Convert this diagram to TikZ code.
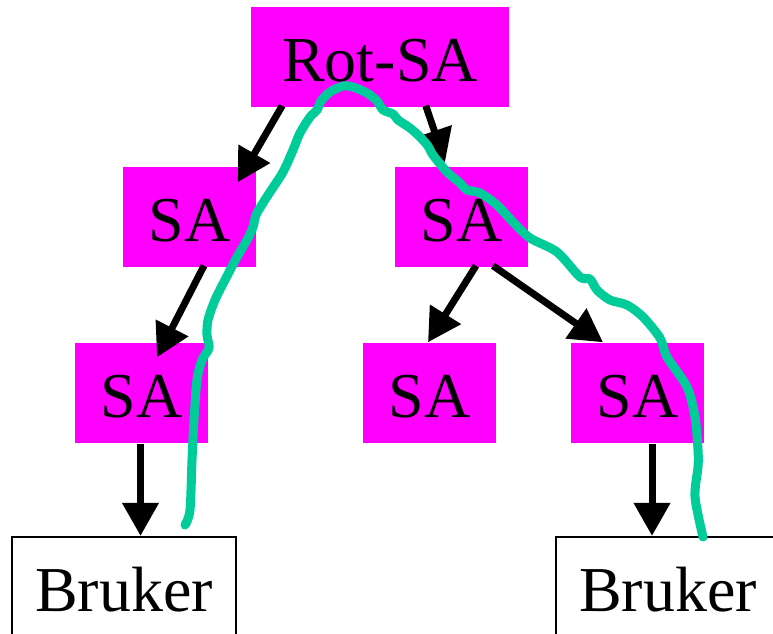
\documentclass[tikz,border=0pt]{standalone}
\usepackage{fontspec}
\setmainfont{Liberation Serif}
\usetikzlibrary{calc,arrows.meta}

\definecolor{samagenta}{RGB}{255,0,255}
\definecolor{pathgreen}{RGB}{0,204,153}

\tikzset{
	sabox/.style={fill=samagenta, inner sep=0pt, minimum width=1.33cm, minimum height=1cm, text height=0.48cm, text depth=0pt, font=\fontsize{18.2pt}{22pt}\selectfont},
	userbox/.style={sabox, fill=white, draw=black, line width=0.6pt, minimum width=2.24cm},
	edge/.style={line width=0.07cm, -{Triangle[length=0.33cm,width=0.35cm]}},
	route/.style={draw=pathgreen, line width=0.09cm, line cap=round, line join=round}
}

\begin{document}
\begin{tikzpicture}[x=0.01cm,y=-0.01cm]
			%%%%% START %%%%%
			\useasboundingbox (0,0) rectangle (773,633);
			\clip (0,0) rectangle (773,633);
			
			% the tree of SAs
			\node[sabox, minimum width=2.58cm] (rot) at (380,57) {Rot-SA~};
			\node[sabox] (sa1) at (189.5,217) {SA};
			\node[sabox] (sa2) at (461.5,217) {SA};
			\node[sabox] (sa11) at (141.5,393) {SA};
			\node[sabox] (sa21) at (429.5,393) {SA};
			\node[sabox] (sa22) at (637.5,393) {SA};
			
			% users at the leaves
			\node[userbox] (usr1) at (124,587) {Bruker};
			\node[userbox] (usr2) at (668,587) {Bruker};
			
			\draw[edge] ($(rot.south west)+(32,-2)$) -- ($(sa1.north east)+(-19,16)$);
			\draw[edge] ($(rot.south east)+(-84,-2)$) -- ($(sa2.north)+(-16.5,-4)$);
			
			\draw[edge] ($(sa1.south)+(14.5,-2)$) -- ($(sa11.north)+(15.5,15)$);
			\draw[edge] ($(sa2.south)+(14.5,-2)$) -- ($(sa21.north)+(-1.5,0)$);
			\draw[edge] ($(sa2.south)+(31.5,-2)$) -- ($(sa22.north)+(-34.5,0)$);
			
			\coordinate (t1) at ($(sa11.south)+(-1,0)$);
			\draw[edge] (t1) -- (t1 |- usr1.north);
			\coordinate (t2) at ($(sa22.south)+(14.5,0)$);
			\draw[edge] (t2) -- (t2 |- usr2.north);
			
			% route from one user to the other
			\draw[route] plot[smooth, tension=0.5] coordinates {
				(185,525) (190,510) (192,460) (194,420) (197,380) (202,360) (209,348)
				(207,335) (208,320) (215,300) (226,278) (237,257) (247,240) (253,227)
				(256,215) (263,203) (270,192) (283,172) (293,150) (300,133) (310,117)
				(317,110) (321,101) (330,92) (343,86) (353,87) (367,93) (377,101)
				(383,110) (393,114) (398,120) (410,128) (420,137) (428,146) (433,155)
				(447,172) (460,183) (467,190) (480,193) (497,205) (513,222) (530,238)
				(557,252) (580,277) (590,279) (597,290) (610,300) (627,305) (643,317)
				(660,338) (667,357) (687,387) (695,417) (698,450) (698,467) (695,497)
				(703,537)};
			
			%%%%% END %%%%%
\end{tikzpicture}
\end{document}
